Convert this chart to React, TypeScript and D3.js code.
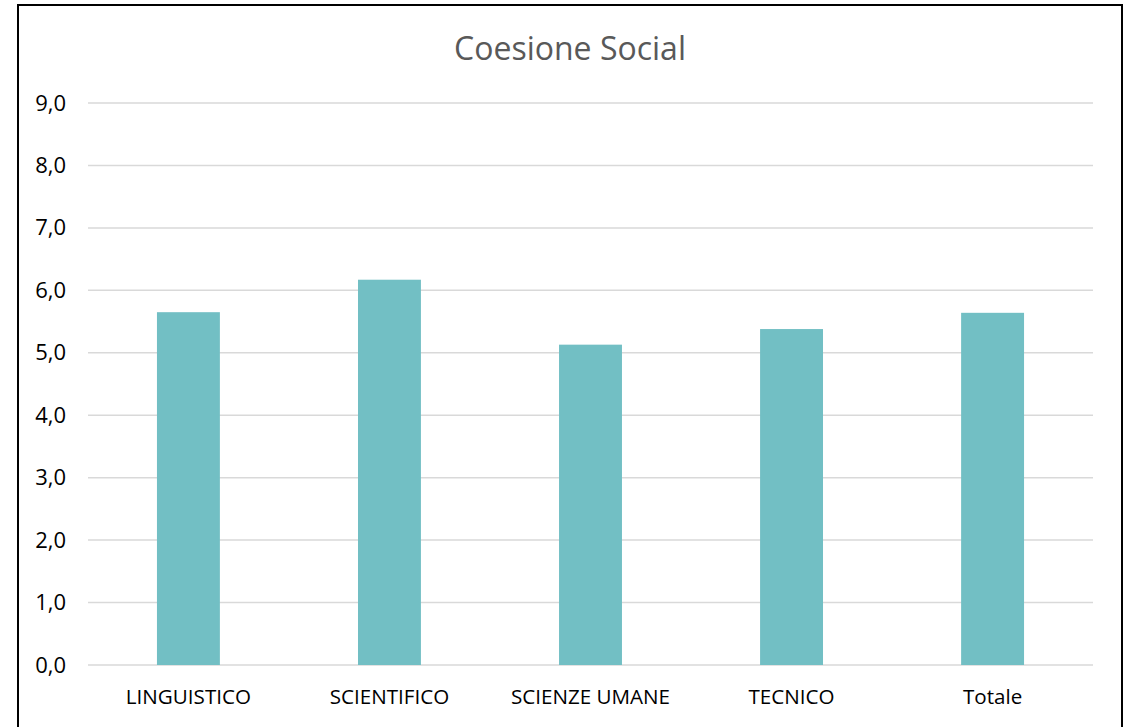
import React from "react";
import * as d3 from "d3";

const categories = ["LINGUISTICO", "SCIENTIFICO", "SCIENZE UMANE", "TECNICO", "Totale"];
const values = [5.65, 6.17, 5.13, 5.38, 5.64];
const yTicks = [0, 1, 2, 3, 4, 5, 6, 7, 8, 9];
const title = "Coesione Social";

export default function App() {
  const W = 1129, H = 727;
  const left = 88, right = 1093, top = 103, bottom = 665;
  const x = d3.scaleBand().domain(categories).range([left, right]).paddingInner(0.687).paddingOuter(0.343);
  const y = d3.scaleLinear().domain([0, 9]).range([bottom, top]);
  const fmt = (v: number) => v.toFixed(1).replace(".", ",");
  const font = "'Open Sans', sans-serif";
  return (
    <svg width={W} height={H} style={{ position: "absolute", left: 0, top: 0, background: "#fff" }}>
      <rect x={18} y={5} width={1104} height={740} fill="#fff" stroke="#000" strokeWidth={2} />
      <text x={570} y={60} textAnchor="middle" fontFamily={font} fontSize={32} fill="#595959">{title}</text>
      {yTicks.map((t) => (
        <g key={t}>
          <line x1={left} x2={right} y1={y(t)} y2={y(t)} stroke="#d9d9d9" strokeWidth={1.5} />
          <text x={66} y={y(t) + 7.5} textAnchor="end" fontFamily={font} fontSize={22} fill="#000">{fmt(t)}</text>
        </g>
      ))}
      {categories.map((c, i) => (
        <g key={c}>
          <rect x={x(c)!} y={y(values[i])} width={x.bandwidth()} height={y(0) - y(values[i])} fill="#72BFC4" />
          <text x={x(c)! + x.bandwidth() / 2} y={704} textAnchor="middle" fontFamily={font} fontSize={20.6} fill="#000">{c}</text>
        </g>
      ))}
    </svg>
  );
}
